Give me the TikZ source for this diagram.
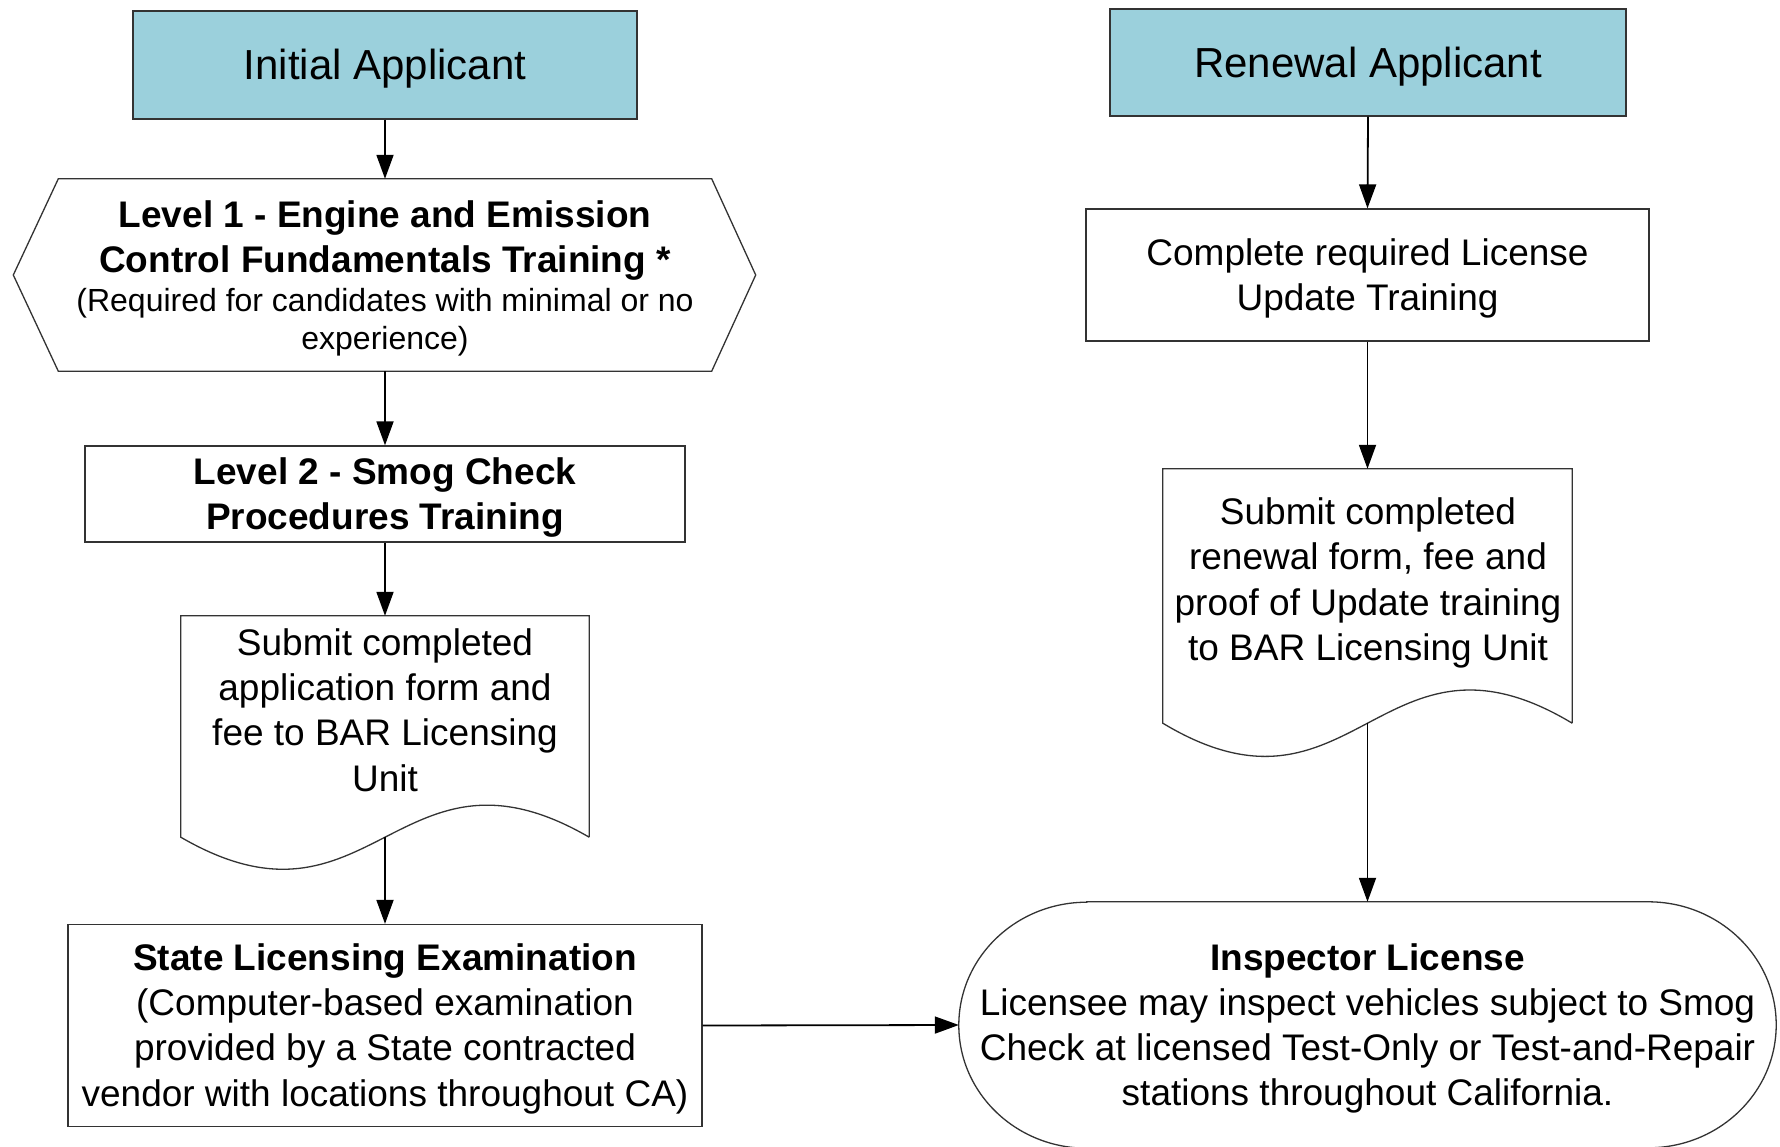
\documentclass[tikz,border=0pt]{standalone}
\usepackage{fontspec}
\setmainfont{Liberation Sans}
\usetikzlibrary{arrows.meta}
\definecolor{appblue}{RGB}{155,208,220}
\newcommand\fbody{\fontsize{37}{45.2}\selectfont}
\newcommand\ftitle{\fontsize{42}{50}\selectfont}
\newcommand\fsmall{\fontsize{32}{37.5}\selectfont}
\newcommand\tst{\rule[-0.212em]{0pt}{1.117em}}
\begin{document}
\begin{tikzpicture}[x=1pt,y=-1pt,
  frame/.style={draw=black!80,line width=1.3pt},
  box/.style={frame,rectangle,inner sep=0pt,align=center,font=\fbody},
  titlebox/.style={box,fill=appblue,font=\ftitle},
  ghost/.style={inner sep=0pt,align=center,font=\fbody},
  conn/.style={-{Triangle[length=24pt,width=17pt]},line width=1.8pt,black}]
\useasboundingbox[fill=white] (0,0) rectangle (1780,1146);

% titles
\node[titlebox,minimum width=504pt,minimum height=108pt] (init) at (385,65) {\tst Initial Applicant\tst};
\node[titlebox,minimum width=516pt,minimum height=107pt] (renew) at (1368,62.5) {\tst Renewal Applicant\tst};

% level 1 hexagon
\node[ghost,minimum width=653pt,minimum height=192pt] (lvl1) at (385,275)
  {\tst\bfseries Level 1 - Engine and Emission\\
   \bfseries Control Fundamentals Training *\\[-6pt]
   \fsmall (Required for candidates with minimal or no\\[-7pt]
   \fsmall experience)\tst};
\draw[frame,line join=miter] (lvl1.north west) -- (lvl1.north east) -- ([xshift=44pt]lvl1.east)
  -- (lvl1.south east) -- (lvl1.south west) -- ([xshift=-45pt]lvl1.west) -- cycle;

% level 2
\node[box,minimum width=600pt,minimum height=96pt,font=\fbody\bfseries] (lvl2) at (385,494)
  {\tst Level 2 - Smog Check\\Procedures Training\tst};

% left document
\node[minimum width=408pt,minimum height=221pt,inner sep=0pt] (doc1) at (385,726.5) {};
\draw[frame] (doc1.south east) -- (doc1.north east) -- (doc1.north west) -- (doc1.south west)
  .. controls +(191,111) and +(-191,-111) .. (doc1.south east);
\node[ghost] (doc1t) at (385,710) {Submit completed\\application form and\\fee to BAR Licensing\\Unit};

% state exam
\node[box,minimum width=634pt,minimum height=202pt] (state) at (385,1025.5)
  {\tst\textbf{State Licensing Examination}\\(Computer-based examination\\provided by a State contracted\\vendor with locations throughout CA)\tst};

% update training
\node[box,minimum width=563pt,minimum height=132pt] (upd) at (1367.5,275)
  {\tst Complete required License\\Update Training\tst};

% right document
\node[minimum width=409pt,minimum height=254pt,inner sep=0pt] (doc2) at (1367.5,596) {};
\draw[frame] (doc2.south east) -- (doc2.north east) -- (doc2.north west) -- (doc2.south west)
  .. controls +(191,115) and +(-191,-115) .. (doc2.south east);
\node[ghost] (doc2t) at (1368,583) {Submit completed\\renewal form, fee and\\proof of Update training\\to BAR Licensing Unit};

% license terminal
\node[ghost,minimum width=817pt,minimum height=246pt] (lic) at (1367.5,1025)
  {\tst\textbf{Inspector License}\\Licensee may inspect vehicles subject to Smog\\Check at licensed Test-Only or Test-and-Repair\\stations throughout California.\tst};
\draw[frame] ([xshift=128pt]lic.north west) -- ([xshift=-128pt]lic.north east)
  arc[start angle=90,end angle=-90,x radius=128pt,y radius=123pt]
  -- ([xshift=128pt]lic.south west)
  arc[start angle=270,end angle=90,x radius=128pt,y radius=123pt] -- cycle;

% connectors
\draw[conn] (init.south) -- (lvl1.north);
\draw[conn] (lvl1.south) -- (lvl2.north);
\draw[conn] (lvl2.south) -- (doc1.north);
\draw[conn] (doc1.south) -- (state.north);
\draw[conn] (state.east) -- (lic.west);
\draw[conn] (renew.south) -- (upd.north);
\draw[conn] (upd.south) -- (doc2.north);
\draw[conn] (doc2.south) -- (lic.north);
\end{tikzpicture}
\end{document}
